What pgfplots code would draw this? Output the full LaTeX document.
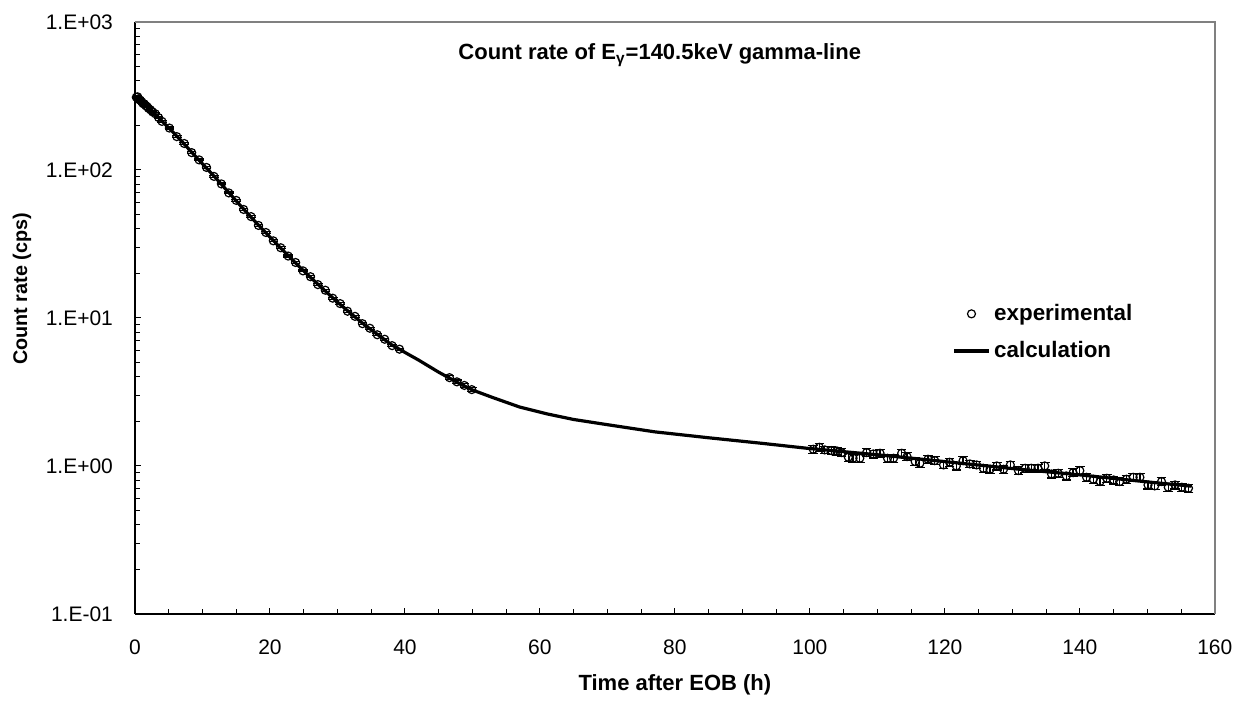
\documentclass[border=0pt]{standalone}
\usepackage{pgfplots}
\usepackage{pgfplotstable}
\pgfplotsset{compat=1.18}
\usepackage{fontspec}
\setmainfont{Liberation Sans}
\pgfplotstableread{
t v e
0.2 310 0.015
0.4 312 0.015
0.6 299 0.015
0.8 296 0.015
1.0 289 0.015
1.2 281 0.015
1.4 279 0.015
1.6 272 0.015
1.8 268 0.015
2.0 261 0.015
2.3 255 0.015
2.6 247 0.015
3.0 240 0.015
3.5 226 0.015
4.0 213 0.015
5.1 192 0.015
6.2 168 0.015
7.3 151 0.015
8.4 131 0.015
9.5 117 0.015
10.6 104 0.015
11.7 90.5 0.015
12.8 80.5 0.015
13.9 70.0 0.015
15.0 62.3 0.015
16.1 54.1 0.015
17.2 48.4 0.015
18.3 42.2 0.015
19.4 37.8 0.015
20.5 33.2 0.015
21.6 29.8 0.015
22.7 26.2 0.015
23.8 23.7 0.015
24.9 20.8 0.015
26.0 19.0 0.015
27.1 16.8 0.015
28.2 15.4 0.015
29.3 13.6 0.015
30.4 12.5 0.015
31.5 11.1 0.015
32.6 10.25 0.015
33.7 9.15 0.015
34.8 8.52 0.015
35.9 7.70 0.015
37.0 7.18 0.015
38.1 6.50 0.015
39.2 6.15 0.015
46.6 3.95 0.03
47.7 3.70 0.03
48.8 3.50 0.03
49.9 3.28 0.03
100.5 1.296 0.06
101.4 1.337 0.06
102.2 1.283 0.06
103.2 1.269 0.06
104.0 1.263 0.06
104.7 1.230 0.06
105.7 1.144 0.06
106.4 1.127 0.06
107.4 1.127 0.06
108.4 1.230 0.06
109.4 1.205 0.06
110.4 1.218 0.06
111.5 1.127 0.06
112.4 1.127 0.06
113.6 1.218 0.06
114.4 1.156 0.06
115.6 1.070 0.06
116.3 1.042 0.06
117.5 1.109 0.06
118.5 1.086 0.06
119.8 1.016 0.06
120.7 1.059 0.06
121.7 1.000 0.06
122.7 1.086 0.06
123.7 1.032 0.06
124.7 1.016 0.06
125.7 0.964 0.06
126.7 0.950 0.06
127.7 1.000 0.06
128.7 0.950 0.06
129.7 1.016 0.06
130.9 0.930 0.06
131.9 0.964 0.06
132.8 0.964 0.06
133.8 0.964 0.06
134.8 1.000 0.06
135.8 0.883 0.06
136.8 0.892 0.06
138.0 0.856 0.06
139.0 0.901 0.06
140.0 0.930 0.06
141.0 0.838 0.06
142.0 0.813 0.06
143.0 0.784 0.06
144.0 0.825 0.06
145.0 0.804 0.06
145.9 0.784 0.06
146.9 0.813 0.06
147.9 0.838 0.06
148.9 0.838 0.06
150.1 0.744 0.06
151.1 0.733 0.06
152.1 0.784 0.06
153.1 0.718 0.06
154.1 0.744 0.06
155.1 0.718 0.06
156.1 0.707 0.06
}\expdata
\pgfplotstableread{
t v
0 315
1 288
2 262
3 238
4 214
5 193
6 173
7 155
8 138
9 123
10 110
11 98.5
12 88
14 69.5
16 55
18 43.8
20 35.2
22 28.4
24 23.0
26 18.8
28 15.5
30 12.8
32 10.7
34 9.0
36 7.7
38 6.6
40 5.85
42 5.2
45 4.3
48 3.62
50 3.26
53 2.9
57 2.5
61 2.25
65 2.06
70 1.9
77 1.7
85 1.55
93 1.42
100 1.31
110 1.19
120 1.07
130 0.96
140 0.87
150 0.78
156.5 0.73
}\calcdata
\begin{document}
\begin{tikzpicture}
\begin{axis}[
  at={(0pt,0pt)}, anchor=south west,
  scale only axis, width=540pt, height=296pt,
  xmin=0, xmax=160, ymode=log, ymin=0.1, ymax=1000,
  axis x line*=bottom, axis y line*=left,
  axis line style={black, line width=0.7pt, -},
  xtick={0,20,...,160}, minor x tick num=3,
  ytick={0.1,1,10,100,1000},
  yticklabels={1.E-01,1.E+00,1.E+01,1.E+02,1.E+03},
  tick align=inside, major tick length=3pt, minor tick length=2.4pt,
  tick style={black, line width=0.5pt},
  /pgf/number format/assume math mode=true,
  ticklabel style={font=\fontsize{10.5}{12}\selectfont},
  xticklabel style={yshift=-9.5pt},
  yticklabel style={xshift=-7.5pt},
  xlabel={Time after EOB (h)},
  ylabel={Count rate (cps)},
  xlabel style={font=\bfseries\fontsize{11}{13}\selectfont, at={(axis description cs:0.5,-0.1199)}, anchor=center},
  ylabel style={font=\bfseries\fontsize{9.9}{12}\selectfont, at={(axis description cs:-0.1046,0.549)}, anchor=center},
  clip=false,
  legend style={at={(axis description cs:0.757,0.4755)}, anchor=west, draw=none, fill=none,
    font=\bfseries\fontsize{11.2}{13}\selectfont, row sep=5pt, inner sep=0pt},
  legend cell align=left,
]
\draw[gray, line width=0.7pt] (rel axis cs:0,1) -- (rel axis cs:1,1) -- (rel axis cs:1,0);
\addplot[only marks, mark=o, mark size=2pt, black, line width=0.6pt,
  error bars/.cd, y dir=both, y explicit relative,
  error bar style={line width=0.6pt, black},
  error mark options={rotate=90, mark size=2.4pt, line width=0.6pt}]
  table[x=t, y=v, y error=e] {\expdata};
\addlegendentry{experimental}
\addplot[black, line width=1.6pt, no marks] table[x=t, y=v] {\calcdata};
\addlegendentry{calculation}
\node[font=\bfseries\fontsize{11}{13}\selectfont] at (axis description cs:0.486,0.944)
  {Count rate of E\textsubscript{γ}=140.5keV gamma-line};
\end{axis}
\path (-67.5pt,-42pt) rectangle (552pt,307pt);
\end{tikzpicture}
\end{document}
